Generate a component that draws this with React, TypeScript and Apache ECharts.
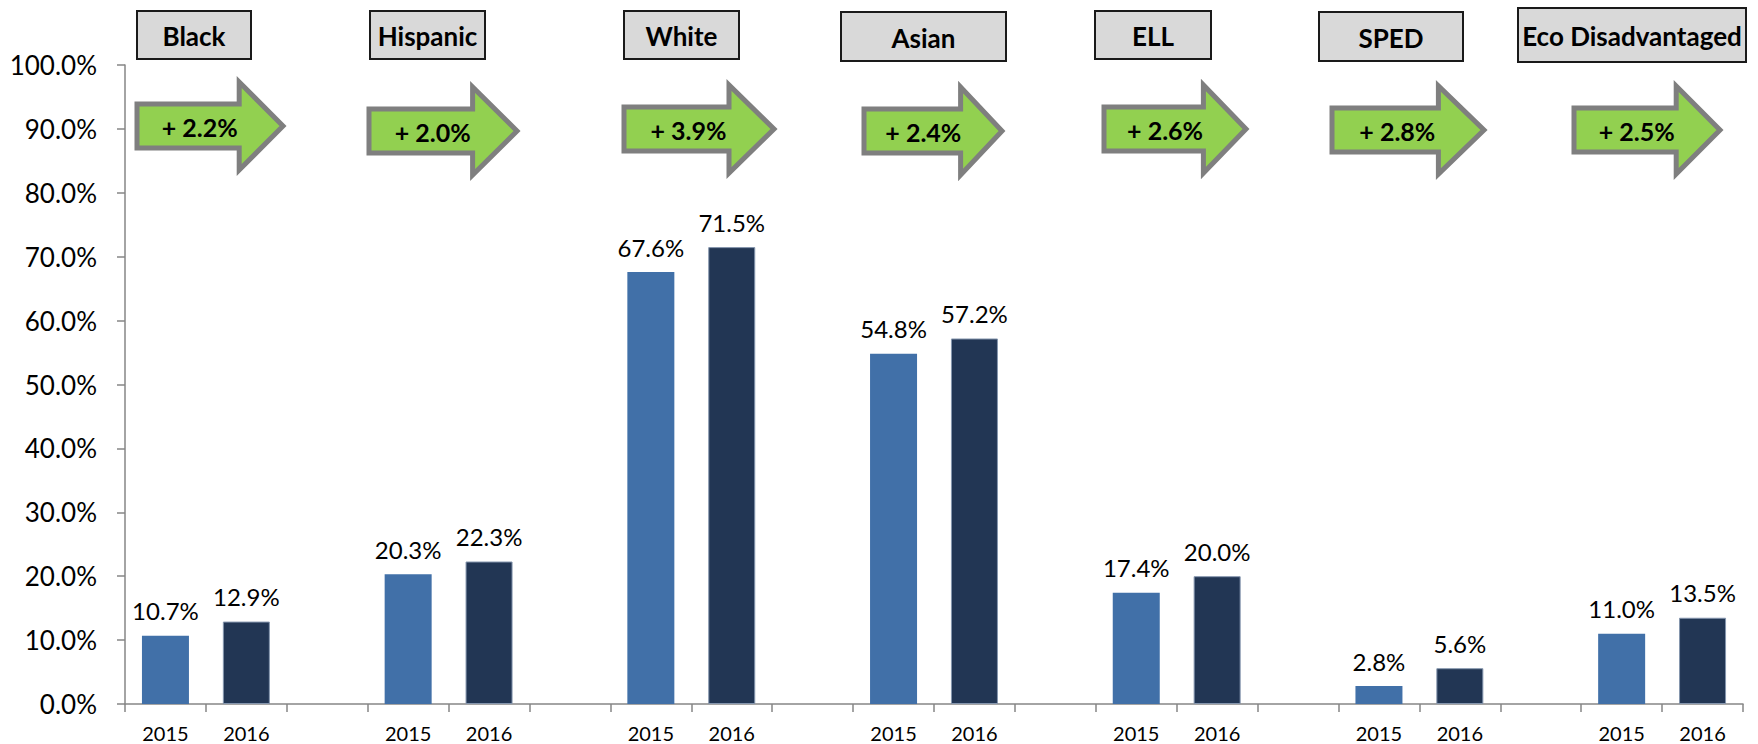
import React, { useEffect, useRef } from "react";
import * as echarts from "echarts";

// ---- data ----
const groups = ["Black", "Hispanic", "White", "Asian", "ELL", "SPED", "Eco Disadvantaged"];
const years = ["2015", "2016"];
const values2015 = [10.7, 20.3, 67.6, 54.8, 17.4, 2.8, 11.0];
const values2016 = [12.9, 22.3, 71.5, 57.2, 20.0, 5.6, 13.5];
const changes = ["+ 2.2%", "+ 2.0%", "+ 3.9%", "+ 2.4%", "+ 2.6%", "+ 2.8%", "+ 2.5%"];
const yTicks = [0, 10, 20, 30, 40, 50, 60, 70, 80, 90, 100];

// ---- annotation layout (pixels) ----
const boxLayout = [
  { x1: 137, x2: 251, y1: 11, y2: 59 },
  { x1: 370, x2: 485, y1: 11, y2: 59 },
  { x1: 624, x2: 739, y1: 11, y2: 59 },
  { x1: 841, x2: 1006, y1: 12, y2: 61 },
  { x1: 1095, x2: 1211, y1: 11, y2: 59 },
  { x1: 1319, x2: 1463, y1: 12, y2: 61 },
  { x1: 1518, x2: 1746, y1: 8, y2: 62 },
];
const arrowLayout = [
  { l: 137, r: 283, cy: 126 },
  { l: 369, r: 517, cy: 131 },
  { l: 624, r: 774, cy: 129 },
  { l: 864, r: 1002, cy: 131 },
  { l: 1104, r: 1246, cy: 129 },
  { l: 1332, r: 1484, cy: 130 },
  { l: 1574, r: 1720, cy: 130 },
];

const FONT = "Lato, 'Liberation Sans', sans-serif";

export default function App() {
  const ref = useRef<HTMLDivElement>(null);

  useEffect(() => {
    if (!ref.current) return;
    const chart = echarts.init(ref.current, undefined, { renderer: "svg" });

    const categories: string[] = [];
    const s2015: (number | string)[] = [];
    const s2016: (number | string)[] = [];
    groups.forEach((_, i) => {
      categories.push(years[0]);
      s2015.push(values2015[i]);
      s2016.push("-");
      categories.push(years[1]);
      s2015.push("-");
      s2016.push(values2016[i]);
      if (i < groups.length - 1) {
        categories.push("");
        s2015.push("-");
        s2016.push("-");
      }
    });

    const graphics: any[] = [];
    groups.forEach((g, i) => {
      const b = boxLayout[i];
      graphics.push({
        type: "rect",
        shape: { x: b.x1, y: b.y1, width: b.x2 - b.x1, height: b.y2 - b.y1 },
        style: { fill: "#D9D9D9", stroke: "#1a1a1a", lineWidth: 2 },
      });
      graphics.push({
        type: "text",
        x: (b.x1 + b.x2) / 2,
        y: (b.y1 + b.y2) / 2 + 1,
        style: {
          text: g,
          fill: "#000",
          font: `bold 26px ${FONT}`,
          align: "center",
          verticalAlign: "middle",
        },
      });
      const a = arrowLayout[i];
      const w = a.r - a.l;
      const hb = a.r - w * 0.3;
      graphics.push({
        type: "polygon",
        shape: {
          points: [
            [a.l, a.cy - 22],
            [hb, a.cy - 22],
            [hb, a.cy - 44],
            [a.r, a.cy],
            [hb, a.cy + 44],
            [hb, a.cy + 22],
            [a.l, a.cy + 22],
          ],
        },
        style: { fill: "#92D050", stroke: "#7F7F7F", lineWidth: 5, lineJoin: "miter" },
      });
      graphics.push({
        type: "text",
        x: a.l + w * 0.43,
        y: a.cy + 1,
        style: {
          text: changes[i],
          fill: "#000",
          font: `bold 25px ${FONT}`,
          align: "center",
          verticalAlign: "middle",
        },
      });
    });

    const labelCfg = {
      show: true,
      position: "top",
      distance: 13,
      color: "#000",
      fontSize: 24,
      fontFamily: FONT,
      formatter: (p: any) => Number(p.value).toFixed(1) + "%",
    };

    chart.setOption({
      animation: false,
      grid: { left: 125, right: 15, top: 65, bottom: 40, containLabel: false },
      xAxis: {
        type: "category",
        data: categories,
        axisLine: { lineStyle: { color: "#868686", width: 1.5 } },
        axisTick: { show: true, interval: 0, length: 8, alignWithLabel: false, lineStyle: { color: "#868686", width: 1.5 } },
        axisLabel: { interval: 0, fontSize: 20, color: "#000", fontFamily: FONT, margin: 19 },
      },
      yAxis: {
        type: "value",
        min: yTicks[0],
        max: yTicks[yTicks.length - 1],
        interval: 10,
        splitLine: { show: false },
        axisLine: { show: true, lineStyle: { color: "#868686", width: 1.5 } },
        axisTick: { show: true, length: 8, lineStyle: { color: "#868686", width: 1.5 } },
        axisLabel: {
          fontSize: 26,
          color: "#000",
          fontFamily: FONT,
          margin: 28,
          formatter: (v: number) => v.toFixed(1) + "%",
        },
      },
      series: [
        {
          name: years[0],
          type: "bar",
          data: s2015,
          barWidth: 47,
          barGap: "-100%",
          itemStyle: { color: "#4170A8" },
          label: labelCfg,
        },
        {
          name: years[1],
          type: "bar",
          data: s2016,
          barWidth: 47,
          barGap: "-100%",
          itemStyle: { color: "#223654", borderColor: "#8596AE", borderWidth: 1 },
          label: labelCfg,
        },
      ],
      graphic: graphics,
    });

    return () => chart.dispose();
  }, []);

  return (
    <div
      ref={ref}
      style={{ position: "absolute", left: 0, top: 0, width: 1758, height: 744, background: "#fff" }}
    />
  );
}
